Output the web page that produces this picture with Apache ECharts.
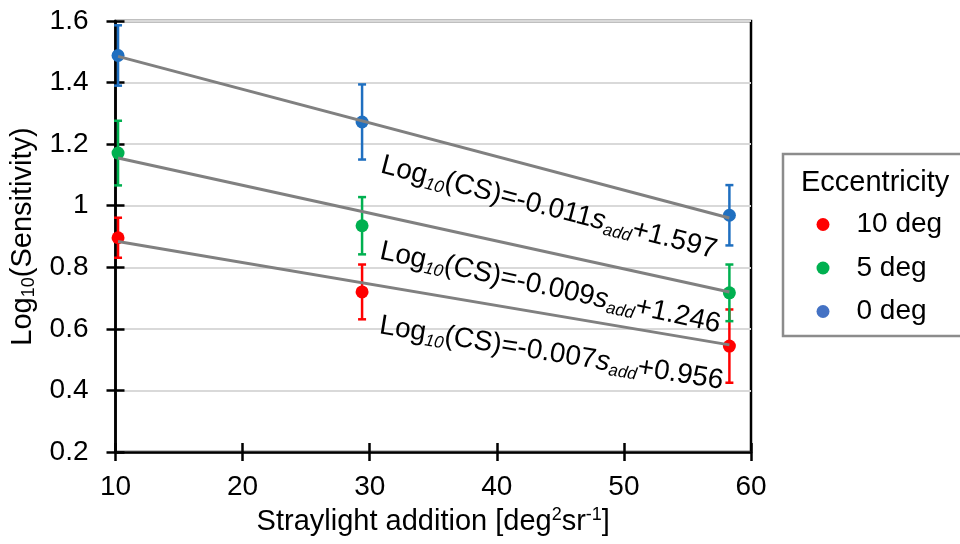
<!DOCTYPE html>
<html><head><meta charset="utf-8">
<script src="https://cdn.jsdelivr.net/npm/echarts@6/dist/echarts.min.js"></script>
<style>html,body{margin:0;padding:0;background:#fff}#c{width:960px;height:544px}</style>
</head><body><div id="c"></div>
<script>
// ---- data ----
const xValues = [10.2, 29.4, 58.3];
const seriesNames = ['10 deg', '5 deg', '0 deg'];
const redValues = [0.896, 0.720, 0.544];
const redErrors = [0.065, 0.089, 0.119];
const greenValues = [1.171, 0.935, 0.717];
const greenErrors = [0.105, 0.093, 0.092];
const blueValues = [1.488, 1.272, 0.969];
const blueErrors = [0.098, 0.122, 0.098];
const trendX = [10.2, 58.3];
const redTrend = [0.884, 0.548];
const greenTrend = [1.155, 0.720];
const blueTrend = [1.485, 0.960];
const eqSlopes = ['-0.007', '-0.009', '-0.011'];
const eqIntercepts = ['+0.956', '+1.246', '+1.597'];
const xAxisMin = 10, xAxisMax = 60, xAxisStep = 10;
const yAxisMin = 0.2, yAxisMax = 1.6, yAxisStep = 0.2;
const legendTitle = 'Eccentricity';

// ---- styling / annotation placement ----
const FONT = '"Liberation Sans", Arial, sans-serif';
const colors = ['#FF0000', '#00B050', '#1F6FC0'];
const legendColors = ['#FF0000', '#00B050', '#4472C4'];
const eqAnchors = [[44.3, 0.520, 9.2], [44.2, 0.733, 12.3], [44.1, 0.993, 14.4]]; // x, y, tilt deg

const valuesList = [redValues, greenValues, blueValues];
const errorsList = [redErrors, greenErrors, blueErrors];
const trendList = [redTrend, greenTrend, blueTrend];

const chart = echarts.init(document.getElementById('c'), null, {renderer: 'canvas'});

function errSeries(i) {
  return {
    type: 'custom', name: seriesNames[i] + ' err', z: 2,
    data: xValues.map((x, k) => [x, valuesList[i][k], errorsList[i][k]]),
    encode: {x: 0, y: 1},
    silent: true,
    renderItem(params, api) {
      const x = api.value(0), y = api.value(1), e = api.value(2);
      const t = api.coord([x, y + e]), b = api.coord([x, y - e]);
      const hw = 4;
      const st = {stroke: colors[i], lineWidth: 2.5};
      return {type: 'group', children: [
        {type: 'line', shape: {x1: t[0], y1: t[1], x2: b[0], y2: b[1]}, style: st},
        {type: 'line', shape: {x1: t[0] - hw, y1: t[1], x2: t[0] + hw, y2: t[1]}, style: st},
        {type: 'line', shape: {x1: b[0] - hw, y1: b[1], x2: b[0] + hw, y2: b[1]}, style: st}
      ]};
    }
  };
}

const series = [];
for (let i = 0; i < 3; i++) series.push(errSeries(i));
for (let i = 0; i < 3; i++) series.push({
  type: 'scatter', name: seriesNames[i], z: 3, symbol: 'circle', symbolSize: 13,
  itemStyle: {color: colors[i], opacity: 1},
  data: xValues.map((x, k) => [x, valuesList[i][k]])
});
for (let i = 0; i < 3; i++) series.push({
  type: 'line', name: seriesNames[i] + ' trend', z: 4, symbol: 'none', silent: true,
  lineStyle: {color: '#808080', width: 3},
  data: trendX.map((x, k) => [x, trendList[i][k]])
});

const option = {
  animation: false,
  backgroundColor: '#fff',
  grid: {left: 112, right: 209, top: 21, bottom: 92, show: true, borderColor: '#000', borderWidth: 2.5, backgroundColor: 'transparent'},
  xAxis: [{
    type: 'value', min: xAxisMin, max: xAxisMax, interval: xAxisStep, position: 'bottom',
    axisLine: {show: true, lineStyle: {color: '#000', width: 2.5}},
    splitLine: {show: false},
    axisTick: {show: true, length: 9, inside: false, lineStyle: {color: '#000', width: 2.5}},
    axisLabel: {fontSize: 28, fontFamily: FONT, color: '#000', margin: 21},
    name: '{m|Straylight addition [deg}{p|2}{m|sr}{p|-1}{m|]}',
    nameLocation: 'middle', nameGap: 54,
    nameTextStyle: {rich: {
      m: {fontSize: 29, fontFamily: FONT, color: '#000', lineHeight: 32},
      p: {fontSize: 18, fontFamily: FONT, color: '#000', lineHeight: 18, verticalAlign: 'top'}
    }}
  }, {
    type: 'value', min: xAxisMin, max: xAxisMax, interval: xAxisStep, position: 'bottom',
    axisLine: {show: false}, splitLine: {show: false}, axisLabel: {show: false},
    axisTick: {show: true, length: 9, inside: true, lineStyle: {color: '#000', width: 2.5}}
  }],
  yAxis: [{
    type: 'value', min: yAxisMin, max: yAxisMax, interval: yAxisStep, position: 'left',
    axisLine: {show: true, lineStyle: {color: '#000', width: 2.5}},
    splitLine: {show: true, lineStyle: {color: '#D9D9D9', width: 2}},
    axisTick: {show: true, length: 9, inside: false, lineStyle: {color: '#000', width: 2.5}},
    axisLabel: {fontSize: 28, fontFamily: FONT, color: '#000', margin: 27},
    name: '{m|Log}{s|10}{m|(Sensitivity)}',
    nameLocation: 'middle', nameGap: 77, nameRotate: 90,
    nameTextStyle: {rich: {
      m: {fontSize: 29, fontFamily: FONT, color: '#000', lineHeight: 32},
      s: {fontSize: 18, fontFamily: FONT, color: '#000', lineHeight: 18, verticalAlign: 'bottom'}
    }}
  }, {
    type: 'value', min: yAxisMin, max: yAxisMax, interval: yAxisStep, position: 'left',
    axisLine: {show: false}, splitLine: {show: false}, axisLabel: {show: false},
    axisTick: {show: true, length: 9, inside: true, lineStyle: {color: '#000', width: 2.5}}
  }],
  legend: {
    orient: 'vertical', left: 816.5, top: 210.5, padding: 0, itemWidth: 13, itemHeight: 13, itemGap: 15.5,
    icon: 'circle', selectedMode: false,
    textStyle: {fontSize: 28, fontFamily: FONT, color: '#000', lineHeight: 28, padding: [0, 0, 0, 22]},
    data: seriesNames.map((n, i) => ({name: n, itemStyle: {color: legendColors[i]}}))
  },
  series: series
};
chart.setOption(option);

const eqGraphics = eqAnchors.map((a, i) => {
  const p = chart.convertToPixel({xAxisIndex: 0, yAxisIndex: 0}, [a[0], a[1]]);
  return {
    type: 'text', x: p[0], y: p[1], rotation: -a[2] * Math.PI / 180, z: 10, silent: true,
    style: {
      text: '{m|Log}{s|10}{m|(CS)=' + eqSlopes[i] + '}{i|s}{si|add}{m|' + eqIntercepts[i] + '}',
      align: 'center', verticalAlign: 'middle',
      rich: {
        m: {fontSize: 28, fontFamily: FONT, fill: '#000', lineHeight: 32},
        i: {fontSize: 28, fontFamily: FONT, fill: '#000', lineHeight: 32, fontStyle: 'italic'},
        s: {fontSize: 17, fontFamily: FONT, fill: '#000', lineHeight: 16, verticalAlign: 'bottom', fontStyle: 'italic'},
        si: {fontSize: 17, fontFamily: FONT, fill: '#000', lineHeight: 16, verticalAlign: 'bottom', fontStyle: 'italic'}
      }
    }
  };
});

chart.setOption({graphic: [
  {type: 'rect', shape: {x: 783, y: 154, width: 200, height: 182}, z: 1, silent: true,
   style: {fill: '#fff', stroke: '#8C8C8C', lineWidth: 2.5}},
  {type: 'text', x: 801, y: 183, z: 2, silent: true,
   style: {text: legendTitle, font: '29px ' + FONT, fill: '#000', verticalAlign: 'middle', align: 'left'}}
].concat(eqGraphics)});
</script>
</body></html>
